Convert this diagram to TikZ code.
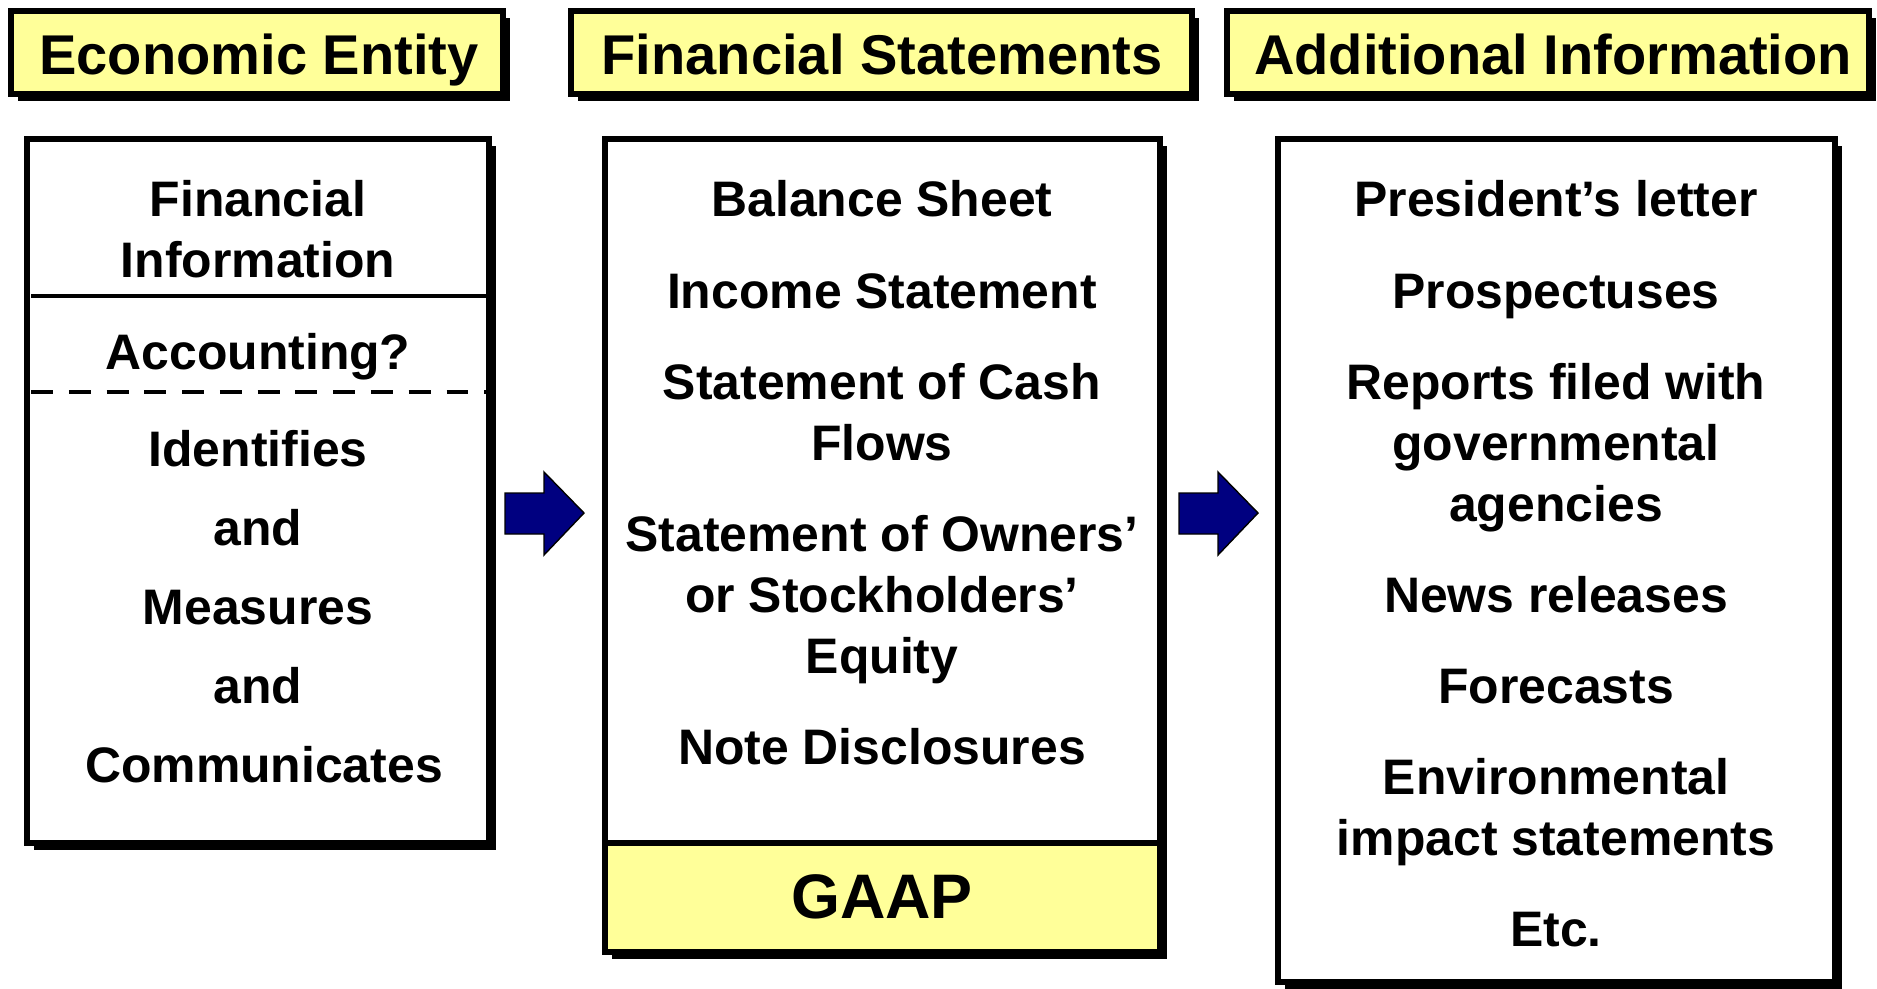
\documentclass[tikz,border=0pt]{standalone}
\usepackage{fontspec}
\setmainfont{Liberation Sans}
\usetikzlibrary{calc}
\begin{document}
\begin{tikzpicture}[x=0.02cm,y=-0.02cm,
  boxline/.style={line width=3.4pt,draw=black},
  shadowfill/.style={fill=black},
  headtext/.style={anchor=base,inner sep=0pt,font=\fontsize{31.9}{38}\selectfont\bfseries},
  bodytext/.style={anchor=base,inner sep=0pt,font=\fontsize{28.4}{34}\selectfont\bfseries},
  gaaptext/.style={anchor=base,inner sep=0pt,font=\fontsize{35.8}{42}\selectfont\bfseries},
  blockarrow/.style={line width=0.8pt,draw=black,fill=arrownavy}]
\definecolor{paleyellow}{rgb}{1,1,0.6}
\definecolor{arrownavy}{rgb}{0,0,0.5}
\useasboundingbox (0,0) rectangle (1877,988);
% corners of the headers and of the boxes
\coordinate[] (HA1) at (11,11);
\coordinate[] (HA2) at (503,94);
\coordinate[] (HB1) at (571,11);
\coordinate[] (HB2) at (1192,94);
\coordinate[] (HC1) at (1227,11);
\coordinate[] (HC2) at (1869,94);
\coordinate[] (BA1) at (27,139);
\coordinate[] (BA2) at (489,843);
\coordinate[] (BB1) at (605,139);
\coordinate[] (BB2) at (1160,843);
\coordinate[] (GB1) at (605,843);
\coordinate[] (GB2) at (1160,952);
\coordinate[] (BC1) at (1278,139);
\coordinate[] (BC2) at (1835,982);
% shadows
\fill[shadowfill] ($(HA1)+(7,7)$) rectangle ($(HA2)+(7,7)$);
\fill[shadowfill] ($(HB1)+(7,7)$) rectangle ($(HB2)+(7,7)$);
\fill[shadowfill] ($(HC1)+(7,7)$) rectangle ($(HC2)+(7,7)$);
\fill[shadowfill] ($(BA1)+(7,7)$) rectangle ($(BA2)+(7,7)$);
\fill[shadowfill] ($(BB1)+(7,7)$) rectangle ($(GB2)+(7,7)$);
\fill[shadowfill] ($(BC1)+(7,7)$) rectangle ($(BC2)+(7,7)$);
% boxes
\draw[boxline,fill=paleyellow] (HA1) rectangle (HA2);
\draw[boxline,fill=paleyellow] (HB1) rectangle (HB2);
\draw[boxline,fill=paleyellow] (HC1) rectangle (HC2);
\draw[boxline,fill=white] (BA1) rectangle (BA2);
\draw[boxline,fill=white] (BB1) rectangle (BB2);
\draw[boxline,fill=paleyellow] (GB1) rectangle (GB2);
\draw[boxline,fill=white] (BC1) rectangle (BC2);
% rules in the left box
\draw[line width=2.3pt] (31,296) -- (486,296);
\draw[line width=2.3pt,dash pattern=on 12.5pt off 9pt] (31,392) -- (486,392);
% arrows
\draw[blockarrow] (505,493)--(544,493)--(544,472)--(584,513)--(544,555)--(544,534)--(505,534)--cycle;
\draw[blockarrow] (1179,493)--(1218,493)--(1218,472)--(1258,513)--(1218,555)--(1218,534)--(1179,534)--cycle;
% headers
\node[headtext] (entity) at (259,74) {Economic Entity};
\node[headtext] (statements) at (882,74) {Financial Statements};
\node[headtext] (additional) at (1553,74) {Additional Information};
% left box
\node[bodytext] (fininfoA) at (258,216) {Financial};
\node[bodytext] (fininfoB) at (258,277) {Information};
\node[bodytext] (accounting) at (258,369) {Accounting?};
\node[bodytext] (identifies) at (258,466) {Identifies};
\node[bodytext] (andA) at (258,545) {and};
\node[bodytext] (measures) at (258,624) {Measures};
\node[bodytext] (andB) at (258,703) {and};
\node[bodytext] (communicates) at (264,782) {Communicates};
% middle box
\node[bodytext] (balance) at (882,216) {Balance Sheet};
\node[bodytext] (income) at (882,308) {Income Statement};
\node[bodytext] (cashA) at (882,399) {Statement of Cash};
\node[bodytext] (cashB) at (882,460) {Flows};
\node[bodytext] (equityA) at (882,551) {Statement of Owners’};
\node[bodytext] (equityB) at (882,612) {or Stockholders’};
\node[bodytext] (equityC) at (882,673) {Equity};
\node[bodytext] (notes) at (882,764) {Note Disclosures};
\node[gaaptext] (gaap) at (882,918) {GAAP};
% right box
\node[bodytext] (president) at (1556,216) {President’s letter};
\node[bodytext] (prospectus) at (1556,308) {Prospectuses};
\node[bodytext] (reportsA) at (1556,399) {Reports filed with};
\node[bodytext] (reportsB) at (1556,460) {governmental};
\node[bodytext] (reportsC) at (1556,521) {agencies};
\node[bodytext] (news) at (1556,612) {News releases};
\node[bodytext] (forecasts) at (1556,703) {Forecasts};
\node[bodytext] (environA) at (1556,794) {Environmental};
\node[bodytext] (environB) at (1556,855) {impact statements};
\node[bodytext] (etc) at (1556,946) {Etc.};
\end{tikzpicture}
\end{document}
